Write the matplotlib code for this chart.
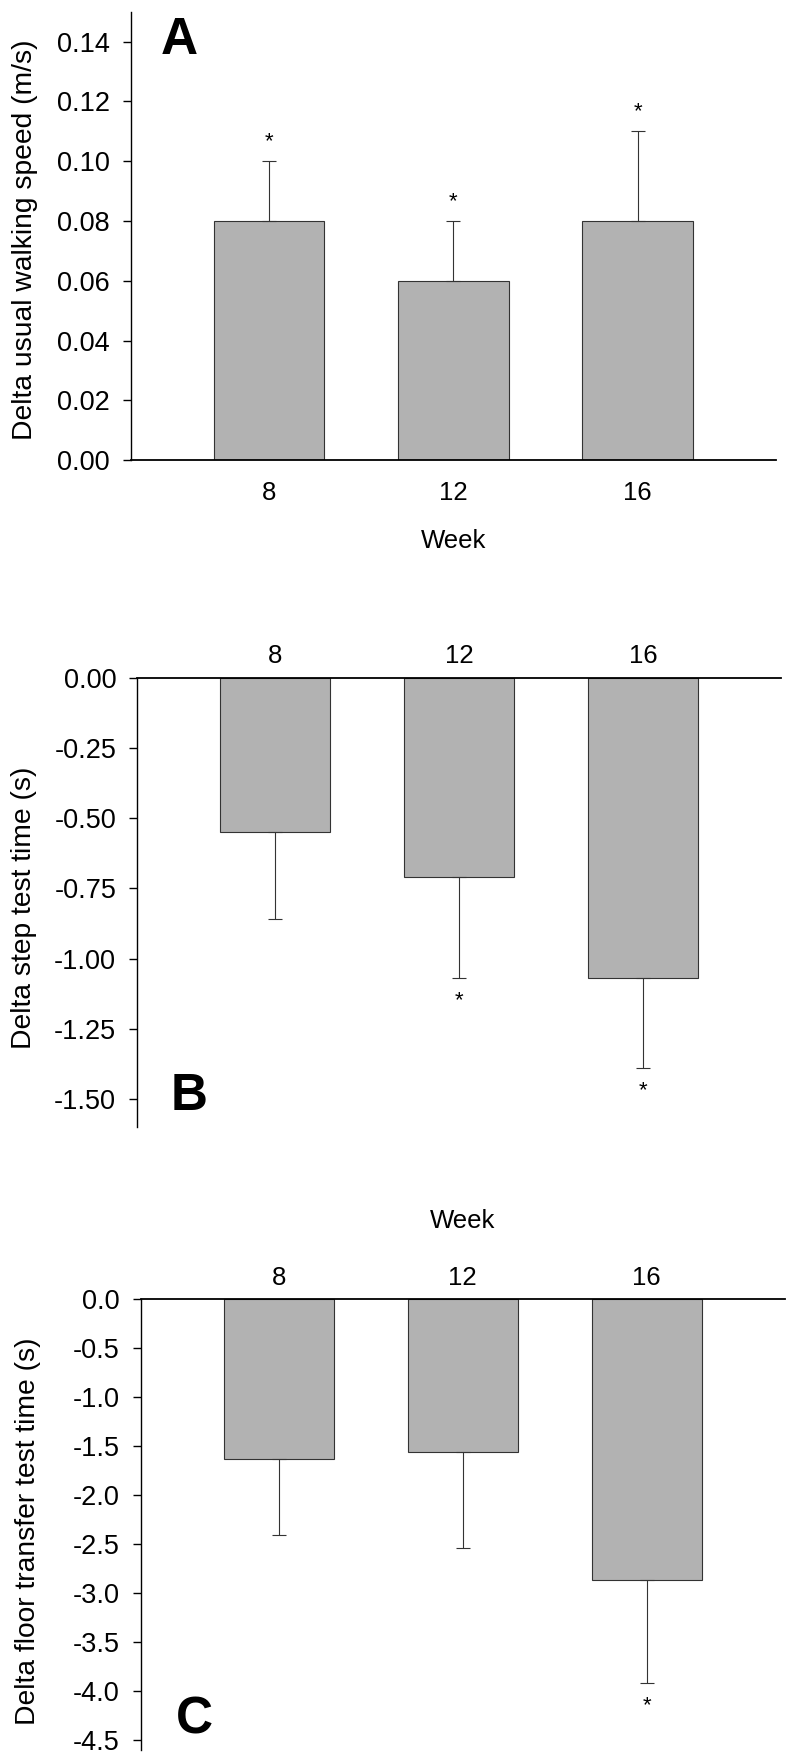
import matplotlib
matplotlib.use("Agg")
import matplotlib.pyplot as plt
import numpy as np

plt.rcParams['font.family'] = ['Liberation Sans', 'DejaVu Sans']
plt.rcParams['axes.unicode_minus'] = False

weeks = ['8', '12', '16']

# Panel A: delta usual walking speed (m/s)
speed_mean = [0.08, 0.06, 0.08]
speed_err = [0.02, 0.02, 0.03]
speed_sig = [True, True, True]

# Panel B: delta step test time (s)
step_mean = [-0.55, -0.71, -1.07]
step_err = [0.31, 0.36, 0.32]
step_sig = [False, True, True]

# Panel C: delta floor transfer test time (s)
floor_mean = [-1.63, -1.56, -2.87]
floor_err = [0.78, 0.98, 1.05]
floor_sig = [False, False, True]

speed_ticks = [0.00, 0.02, 0.04, 0.06, 0.08, 0.10, 0.12, 0.14]
step_ticks = [0.00, -0.25, -0.50, -0.75, -1.00, -1.25, -1.50]
floor_ticks = [0.0, -0.5, -1.0, -1.5, -2.0, -2.5, -3.0, -3.5, -4.0, -4.5]

BAR_COLOR = '#b2b2b2'
EDGE = '#333333'
YTICK_FS = 19.5
XTICK_FS = 18.5
LABEL_FS = 20.3

W, H = 800, 1759
fig = plt.figure(figsize=(W / 100, H / 100), dpi=100)


def make_axes(left_px, right_px, top_px, bottom_px):
    return fig.add_axes([left_px / W, 1 - bottom_px / H,
                         (right_px - left_px) / W, (bottom_px - top_px) / H])


def draw_panel(ax, means, errs, sig, ticks, fmt, ylim, ylabel, letter, letter_xy,
               positive, label_xy, week_y=None):
    x = np.arange(len(means))
    ax.bar(x, means, width=0.6, color=BAR_COLOR, edgecolor=EDGE, linewidth=0.8, zorder=2)
    zeros = np.zeros(len(errs))
    if positive:
        yerr = [zeros, errs]
    else:
        yerr = [errs, zeros]
    ax.errorbar(x, means, yerr=yerr, fmt='none', ecolor=EDGE, elinewidth=0.8,
                capsize=5, capthick=0.8, zorder=3)
    for xi, m, e, s in zip(x, means, errs, sig):
        if s:
            end = m + e if positive else m - e
            ax.annotate('*', xy=(xi, end), xytext=(0, 14 if positive else -16),
                        textcoords='offset points', ha='center', va='center',
                        fontsize=16)
    ax.set_xlim(-0.75, 2.75)
    ax.set_ylim(*ylim)
    ax.set_yticks(ticks)
    ax.set_yticklabels([fmt.format(t) for t in ticks], fontsize=YTICK_FS)
    ax.set_xticks(x)
    ax.set_xticklabels(weeks, fontsize=XTICK_FS)
    ax.tick_params(axis='y', direction='out', length=6, width=1.0, pad=9)
    ax.tick_params(axis='x', length=0)
    for s in ['top', 'right', 'bottom', 'left']:
        ax.spines[s].set_visible(False)
    ax.spines['left'].set_visible(True)
    ax.spines['left'].set_linewidth(1.0)
    if positive:
        ax.spines['bottom'].set_visible(True)
        ax.spines['bottom'].set_linewidth(1.3)
        ax.tick_params(axis='x', pad=15)
    else:
        ax.spines['top'].set_visible(True)
        ax.spines['top'].set_linewidth(1.3)
        ax.xaxis.tick_top()
        ax.tick_params(axis='x', length=0, pad=7)
    ax.set_ylabel(ylabel, fontsize=LABEL_FS, rotation=90, ha='center', va='center',
                  rotation_mode='anchor')
    ax.yaxis.set_label_coords(*label_xy)
    ax.text(letter_xy[0], letter_xy[1], letter, transform=ax.transAxes,
            fontsize=37, fontweight='bold', ha='center', va='center')
    if week_y is not None:
        ax.text(0.5, week_y, 'Week', transform=ax.transAxes, fontsize=XTICK_FS,
                ha='center', va='center')


axA = make_axes(130.7, 776, 11.7, 460.3)
draw_panel(axA, speed_mean, speed_err, speed_sig, speed_ticks, '{:.2f}', (0, 0.15),
           'Delta usual walking speed (m/s)', 'A', (0.075, 0.935), True,
           (-0.164, 0.492), week_y=-0.179)

axB = make_axes(137, 781, 677.7, 1127)
draw_panel(axB, step_mean, step_err, step_sig, step_ticks, '{:.2f}', (-1.6, 0),
           'Delta step test time (s)', 'B', (0.081, 0.068), False,
           (-0.175, 0.488))

axC = make_axes(140.7, 784.7, 1299.3, 1749.7)
draw_panel(axC, floor_mean, floor_err, floor_sig, floor_ticks, '{:.1f}', (-4.6, 0),
           'Delta floor transfer test time (s)', 'C', (0.084, 0.066), False,
           (-0.175, 0.486), week_y=1.174)

fig.savefig('out.png', dpi=100, facecolor='white')
